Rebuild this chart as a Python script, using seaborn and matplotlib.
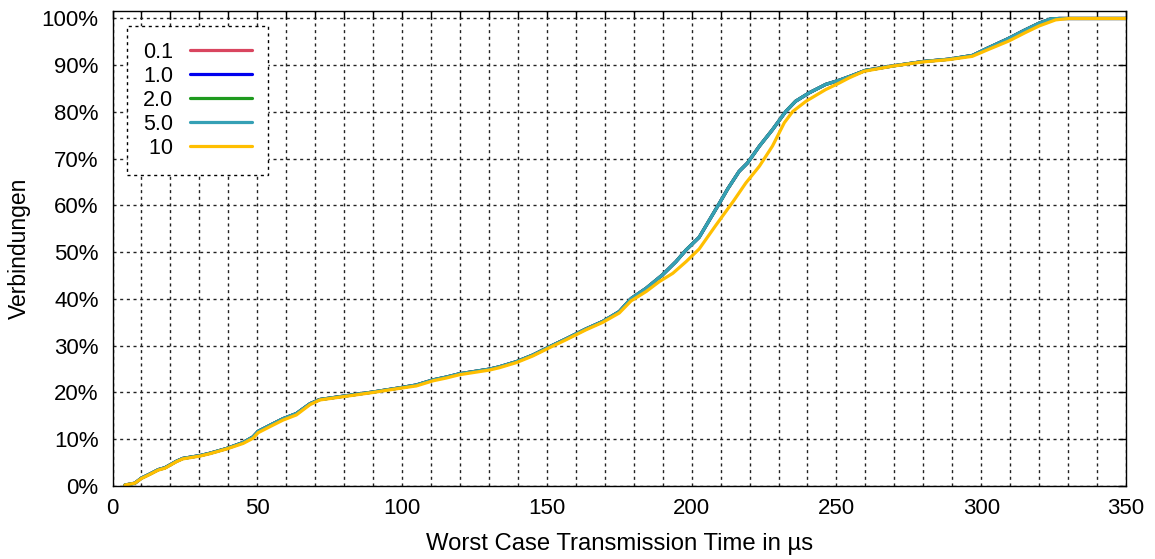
import matplotlib
matplotlib.use("Agg")
import matplotlib.pyplot as plt
from matplotlib.ticker import MultipleLocator, FuncFormatter
import seaborn as sns
import pandas as pd

# ---- data ----
series_names = ["0.1", "1.0", "2.0", "5.0", "10"]
legend_labels = ["0.1", "1.0", "2.0", "5.0", " 10"]
colors = ["#d9455f", "#0000ee", "#1e9a1e", "#35a0b5", "#ffbf00"]

# curve shared by 0.1 / 1.0 / 2.0 / 5.0 (they overlap in the picture)
t_fast = [4.3, 7.7, 10.0, 13.0, 15.8, 18.1, 22.1, 24.3, 30.2, 33.6, 39.3, 45.1,
          48.5, 50.3, 54.4, 58.9, 63.5, 68.2, 71.6, 79.6, 89.9, 99.2, 104.9,
          110.7, 115.3, 119.8, 130.2, 133.6, 139.5, 145.1, 150.3, 156.7, 163.5,
          169.3, 175.0, 179.1, 184.3, 190.0, 194.6, 198.1, 202.6, 209.6, 212.5,
          216.4, 219.3, 223.4, 227.9, 232.5, 235.9, 240.6, 246.3, 251.0, 255.0,
          260.0, 270.0, 280.0, 289.0, 297.0, 302.0, 309.0, 315.0, 320.0, 324.0,
          327.0, 350.0]
p_fast = [0.2, 0.6, 1.7, 2.6, 3.5, 3.9, 5.3, 5.9, 6.5, 7.0, 8.0, 9.3,
          10.5, 11.7, 13.0, 14.4, 15.5, 17.6, 18.5, 19.2, 20.1, 21.0, 21.6,
          22.7, 23.3, 24.0, 25.0, 25.5, 26.6, 28.0, 29.6, 31.5, 33.6,
          35.2, 37.3, 40.1, 42.3, 45.2, 48.0, 50.5, 53.2, 60.5, 63.6,
          67.3, 69.1, 72.7, 76.2, 80.1, 82.3, 84.1, 85.9, 86.8, 87.7,
          88.9, 89.9, 90.8, 91.3, 92.1, 93.6, 95.6, 97.5, 99.0, 99.9,
          100.0, 100.0]

# curve for 10
t_slow = [4.3, 7.7, 10.0, 13.0, 15.8, 18.1, 22.1, 24.3, 30.2, 33.6, 39.3, 45.1,
          48.5, 50.3, 54.4, 58.9, 63.5, 68.2, 71.6, 79.6, 89.9, 99.2, 104.9,
          110.7, 115.3, 119.8, 130.2, 133.6, 139.5, 145.1, 150.3, 156.7, 163.5,
          169.3, 175.0, 179.1, 184.3, 188.8, 193.5, 198.1, 202.6, 208.4, 214.5,
          218.7, 223.4, 227.9, 232.0, 234.9, 239.5, 246.3, 251.0, 254.4, 259.5,
          269.3, 279.7, 288.8, 296.9, 302.6, 309.6, 315.3, 320.0, 325.7, 330.2,
          350.0]
p_slow = [0.2, 0.6, 1.6, 2.5, 3.4, 3.8, 5.2, 5.8, 6.4, 6.9, 7.9, 9.1,
          10.2, 11.4, 12.7, 14.1, 15.2, 17.4, 18.4, 19.1, 20.0, 20.9, 21.4,
          22.5, 23.1, 23.8, 24.8, 25.3, 26.4, 27.8, 29.4, 31.3, 33.4,
          35.0, 37.0, 39.6, 41.6, 43.7, 45.5, 48.0, 50.7, 55.8, 61.0,
          64.8, 68.4, 72.7, 77.7, 80.1, 82.3, 84.8, 86.2, 87.3, 88.7,
          89.8, 90.7, 91.2, 91.9, 93.4, 95.2, 97.0, 98.4, 99.7, 100.0,
          100.0]

curves = {"0.1": (t_fast, p_fast), "1.0": (t_fast, p_fast), "2.0": (t_fast, p_fast),
          "5.0": (t_fast, p_fast), "10": (t_slow, p_slow)}

rows = []
for name in series_names:
    ts, ps = curves[name]
    for t, p in zip(ts, ps):
        rows.append({"t": t, "p": p, "series": name})
df = pd.DataFrame(rows)

# ---- figure ----
sns.set_theme(style="white")
plt.rcParams["font.family"] = ["Liberation Sans", "DejaVu Sans"]
plt.rcParams["text.color"] = "black"

fig = plt.figure(figsize=(11.55, 5.59), dpi=100)
ax = fig.add_axes([112.5 / 1155, 1 - 486 / 559, (1126 - 112.5) / 1155, (486 - 11) / 559])

sns.lineplot(data=df, x="t", y="p", hue="series", hue_order=series_names,
             palette=dict(zip(series_names, colors)), estimator=None, sort=False,
             units="series", linewidth=2.3, ax=ax, legend=True)

ax.set_xlim(0, 350)
ax.set_ylim(0, 101.6)
ax.xaxis.set_major_locator(MultipleLocator(50))
ax.xaxis.set_minor_locator(MultipleLocator(10))
ax.yaxis.set_major_locator(MultipleLocator(10))
ax.yaxis.set_major_formatter(FuncFormatter(lambda v, _: f"{int(round(v))}%"))

ax.grid(True, which="both", color="#222222", linewidth=1.0,
        linestyle=(0, (2.2, 2.6)))
ax.set_axisbelow(True)

ax.tick_params(axis="both", which="both", direction="in", top=True, right=True,
               length=6, width=1, color="black", labelsize=16, labelcolor="black")
ax.tick_params(axis="x", which="both", pad=9)
ax.tick_params(axis="y", which="both", pad=10)

for s in ax.spines.values():
    s.set_color("black")
    s.set_linewidth(1.0)

ax.set_xlabel("Worst Case Transmission Time in µs", fontsize=17.2, color="black", labelpad=10)
ax.set_ylabel("Verbindungen", fontsize=16.5, color="black", labelpad=8)

handles, _ = ax.get_legend_handles_labels()
if ax.get_legend() is not None:
    ax.get_legend().remove()
leg = ax.legend(handles[:5], legend_labels, loc="upper left",
                bbox_to_anchor=((127 - 112.5) / (1126 - 112.5), (486 - 26) / 475),
                borderaxespad=0, markerfirst=False, fontsize=15.5,
                handlelength=2.85, handletextpad=0.8, labelspacing=0.14,
                borderpad=0.74, frameon=True, fancybox=False, framealpha=1)
for txt in leg.get_texts():
    txt.set_color("black")
fr = leg.get_frame()
fr.set_edgecolor("black")
fr.set_linewidth(1.0)
fr.set_linestyle((0, (2.2, 2.6)))
for h in leg.get_lines():
    h.set_linewidth(2.3)

fig.savefig("out.png", dpi=100)
